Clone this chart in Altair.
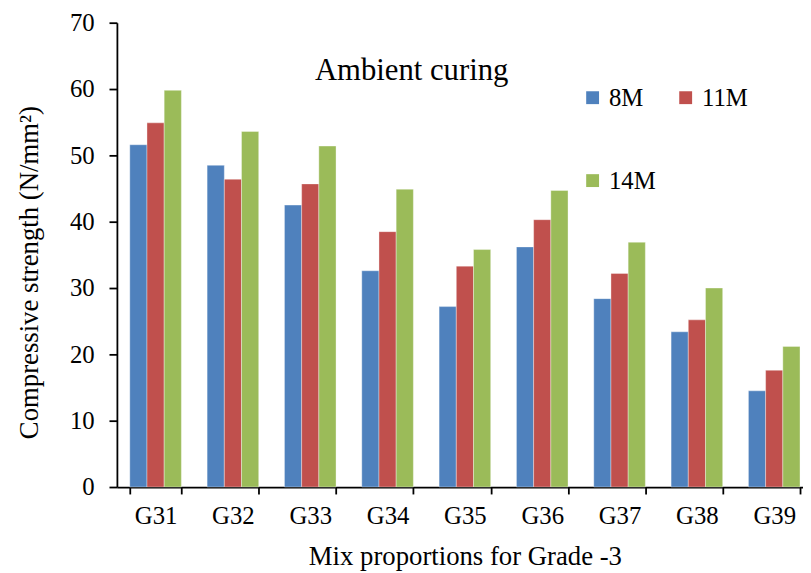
import altair as alt
import pandas as pd

mixes = ["G31", "G32", "G33", "G34", "G35", "G36", "G37", "G38", "G39"]
series = ["8M", "11M", "14M"]
m8 = [51.6, 48.5, 42.5, 32.6, 27.2, 36.2, 28.4, 23.4, 14.5]
m11 = [54.9, 46.4, 45.7, 38.5, 33.3, 40.3, 32.2, 25.2, 17.6]
m14 = [59.8, 53.6, 51.4, 44.9, 35.8, 44.7, 36.9, 30.0, 21.2]
colors = ["#4F81BD", "#C0504D", "#9BBB59"]
y_ticks = [0, 10, 20, 30, 40, 50, 60, 70]

rows = []
for s, vals in zip(series, [m8, m11, m14]):
    for m, v in zip(mixes, vals):
        rows.append({"mix": m, "series": s, "value": v})
df = pd.DataFrame(rows)

FONT = "'Times New Roman', 'Liberation Serif', Times, serif"

bars = alt.Chart(df).mark_bar(stroke="white", strokeWidth=0.6, strokeOpacity=0.6).encode(
    x=alt.X(
        "mix:N",
        sort=mixes,
        scale=alt.Scale(range=[0, 703], paddingInner=0.333, paddingOuter=0.1667),
        axis=alt.Axis(
            title="Mix proportions for Grade -3",
            labelAngle=0,
            tickBand="extent",
            tickSize=7,
            labelPadding=10,
            titleY=78,
            titleBaseline="alphabetic",
            labelFont=FONT,
            titleFont=FONT,
        ),
    ),
    xOffset=alt.XOffset("series:N", sort=series, scale=alt.Scale(paddingInner=0, paddingOuter=0)),
    y=alt.Y(
        "value:Q",
        scale=alt.Scale(domain=[0, 70], nice=False),
        axis=alt.Axis(
            title="Compressive strength (N/mm²)",
            values=y_ticks,
            tickSize=8,
            labelPadding=15,
            grid=False,
            titleX=-80,
            titleY=252,
            titleBaseline="alphabetic",
            labelFont=FONT,
            titleFont=FONT,
        ),
    ),
    color=alt.Color(
        "series:N",
        sort=series,
        scale=alt.Scale(domain=series, range=colors),
        legend=alt.Legend(
            title=None,
            orient="none",
            direction="horizontal",
            legendX=468,
            legendY=63,
            columns=2,
            columnPadding=17,
            rowPadding=58,
            symbolType="square",
            symbolSize=169,
            symbolStrokeWidth=0,
            labelOffset=4,
            labelFontSize=25,
            labelFont=FONT,
            labelColor="black",
            padding=0,
        ),
    ),
)

label_df = pd.DataFrame({"t": ["Ambient curing"]})
note = alt.Chart(label_df).mark_text(
    align="left", baseline="alphabetic", font=FONT, fontSize=31, color="black"
).encode(text="t:N", x=alt.value(200), y=alt.value(58))

chart = (
    alt.layer(bars, note)
    .properties(
        width=693,
        height=469,
        autosize=alt.AutoSizeParams(type="none"),
        padding={"left": 110, "top": 12, "right": 0, "bottom": 84},
    )
    .configure(font=FONT)
    .configure_view(stroke=None)
    .configure_axis(
        labelFont=FONT,
        titleFont=FONT,
        labelFontSize=25,
        titleFontSize=27,
        labelColor="black",
        titleColor="black",
        titleFontWeight="normal",
        domainColor="black",
        domainWidth=1.8,
        tickColor="black",
        tickWidth=1.8,
    )
    .configure_legend(labelFont=FONT)
)

chart.save("out.html", embed_options={"renderer": "svg", "actions": False})
